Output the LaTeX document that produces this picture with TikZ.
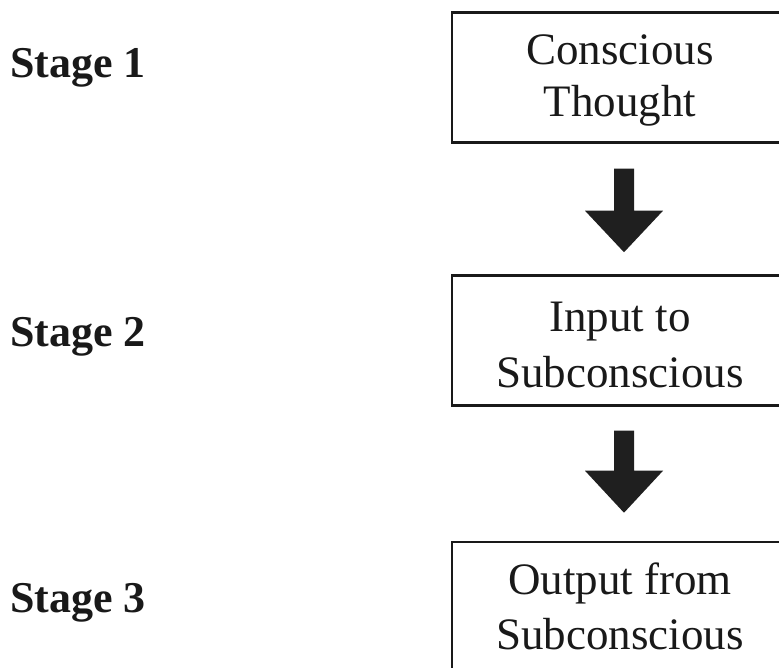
\documentclass[tikz,border=0pt]{standalone}
\usepackage{fontspec}
\setmainfont{Liberation Serif}
\usetikzlibrary{calc}
\begin{document}
\begin{tikzpicture}[x=1pt,y=1pt,
  stagebox/.style={draw=black!90, line width=2.5pt, minimum width=338pt, minimum height=130pt, inner sep=0pt},
  boxtext/.style={anchor=base, inner sep=0pt, font=\fontsize{45}{54}\selectfont, text=black!90},
  stagelabel/.style={anchor=base west, inner sep=0pt, font=\fontsize{44}{42}\selectfont\bfseries, text=black!90},
  blockarrow/.style={fill=black!88}]
\useasboundingbox (0,0) rectangle (779,668);
\clip (0,0) rectangle (779,668);
\node[stagebox] (b1) at (621,590.5) {};
\node[stagebox] (b2) at (621,327.5) {};
\node[stagebox] (b3) at (621,61) {};
\node[boxtext] (t1a) at (620,603) {Conscious};
\node[boxtext] (t1b) at (620,551) {Thought};
\node[boxtext] (t2a) at (620,336) {Input to};
\node[boxtext] (t2b) at (620,280) {Subconscious};
\node[boxtext] (t3a) at (620,73) {Output from};
\node[boxtext] (t3b) at (620,18) {Subconscious};
\node[stagelabel] (s1) at (10,590) {Stage 1};
\node[stagelabel] (s2) at (10,321) {Stage 2};
\node[stagelabel] (s3) at (10,55) {Stage 3};
% arrow from b1 to b2
\fill[blockarrow] ($(b1.south)+(-7,-25)$) -- ($(b1.south)+(13,-25)$) -- ($(b1.south)+(13,-67)$)
  -- ($(b1.south)+(42,-67)$) -- ($(b2.north)+(3,22)$) -- ($(b1.south)+(-36,-67)$)
  -- ($(b1.south)+(-7,-67)$) -- cycle;
% arrow from b2 to b3
\fill[blockarrow] ($(b2.south)+(-7,-24)$) -- ($(b2.south)+(13,-24)$) -- ($(b2.south)+(13,-64)$)
  -- ($(b2.south)+(42,-64)$) -- ($(b3.north)+(3,28)$) -- ($(b2.south)+(-36,-64)$)
  -- ($(b2.south)+(-7,-64)$) -- cycle;
\end{tikzpicture}
\end{document}
